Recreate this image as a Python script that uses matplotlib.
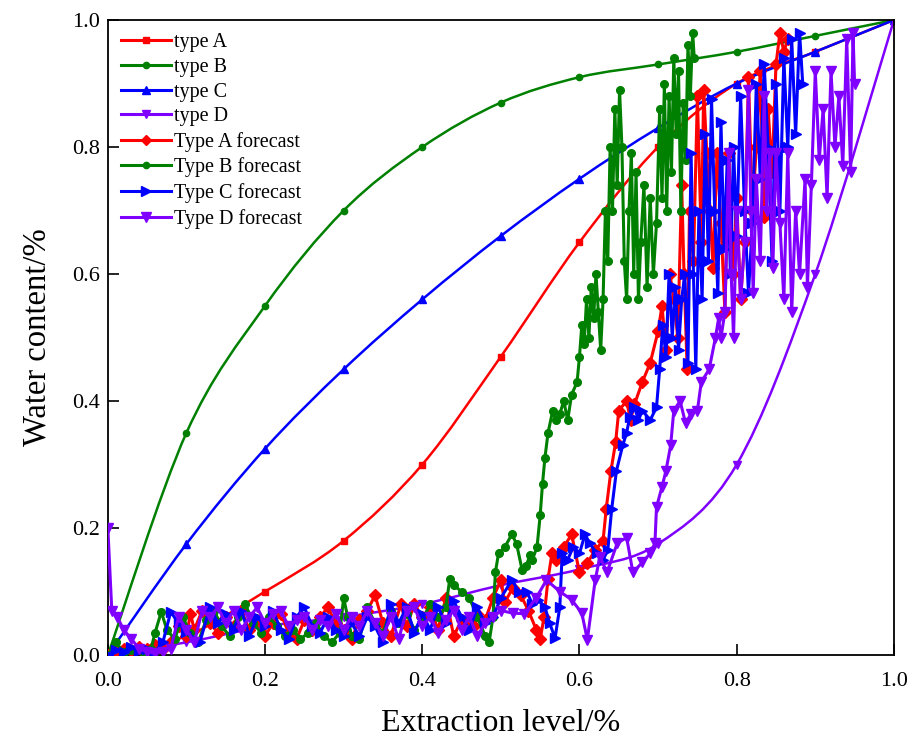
import numpy as np
import matplotlib.pyplot as plt
from matplotlib.path import Path
from matplotlib.patches import PathPatch
from matplotlib.lines import Line2D

plt.rcParams['font.family'] = ['Liberation Serif', 'DejaVu Serif']

# type curves (values read at every 0.1 of extraction level)
type_x = [0.0, 0.1, 0.2, 0.3, 0.4, 0.5, 0.6, 0.7, 0.8, 0.9, 1.0]
type_a = [0.0, 0.03, 0.10, 0.18, 0.30, 0.47, 0.65, 0.80, 0.90, 0.95, 1.0]
type_b = [0.0, 0.35, 0.55, 0.70, 0.80, 0.87, 0.91, 0.93, 0.95, 0.975, 1.0]
type_c = [0.0, 0.175, 0.325, 0.45, 0.56, 0.66, 0.75, 0.83, 0.90, 0.95, 1.0]
type_d = [0.0, 0.02, 0.045, 0.06, 0.08, 0.11, 0.135, 0.175, 0.30, 0.60, 1.0]

# forecast series, (extraction level, water content)
fc_a = np.array([
    [0.000, 0.000], [0.010, 0.005], [0.020, 0.010], [0.030, 0.008], [0.040, 0.012],
    [0.050, 0.010], [0.060, 0.015], [0.070, 0.010], [0.080, 0.020], [0.090, 0.045],
    [0.100, 0.030], [0.105, 0.065], [0.110, 0.040], [0.120, 0.070], [0.130, 0.050],
    [0.140, 0.035], [0.150, 0.060], [0.160, 0.045], [0.170, 0.070], [0.180, 0.040],
    [0.190, 0.055], [0.200, 0.030], [0.210, 0.050], [0.220, 0.065], [0.230, 0.035],
    [0.240, 0.025], [0.250, 0.055], [0.260, 0.040], [0.270, 0.060], [0.280, 0.075],
    [0.290, 0.050], [0.300, 0.040], [0.310, 0.025], [0.320, 0.055], [0.330, 0.070],
    [0.340, 0.094], [0.350, 0.050], [0.360, 0.030], [0.373, 0.080], [0.380, 0.045],
    [0.390, 0.080], [0.400, 0.060], [0.410, 0.075], [0.420, 0.040], [0.430, 0.090],
    [0.440, 0.030], [0.450, 0.055], [0.466, 0.045], [0.470, 0.065], [0.480, 0.055],
    [0.490, 0.090], [0.500, 0.118], [0.505, 0.083], [0.515, 0.105], [0.525, 0.095],
    [0.535, 0.070], [0.545, 0.040], [0.550, 0.025], [0.555, 0.060], [0.560, 0.120],
    [0.565, 0.160], [0.570, 0.150], [0.580, 0.170], [0.590, 0.190], [0.600, 0.130],
    [0.610, 0.145], [0.620, 0.165], [0.630, 0.180], [0.634, 0.230], [0.640, 0.290],
    [0.646, 0.335], [0.650, 0.385], [0.660, 0.400], [0.665, 0.370], [0.670, 0.395],
    [0.680, 0.430], [0.690, 0.460], [0.700, 0.510], [0.705, 0.550], [0.710, 0.480],
    [0.715, 0.600], [0.720, 0.560], [0.725, 0.500], [0.730, 0.740], [0.733, 0.600],
    [0.737, 0.450], [0.740, 0.700], [0.745, 0.620], [0.750, 0.880], [0.755, 0.650],
    [0.758, 0.890], [0.762, 0.790], [0.766, 0.700], [0.770, 0.610], [0.775, 0.790],
    [0.780, 0.680], [0.785, 0.540], [0.790, 0.790], [0.795, 0.600], [0.800, 0.720],
    [0.805, 0.560], [0.810, 0.650], [0.815, 0.910], [0.820, 0.700], [0.825, 0.800],
    [0.830, 0.920], [0.835, 0.690], [0.840, 0.860], [0.845, 0.760], [0.850, 0.930],
    [0.855, 0.980], [0.860, 0.950], [0.865, 0.970],
])

fc_b = np.array([
    [0.000, 0.000], [0.010, 0.020], [0.020, 0.005], [0.030, 0.008], [0.045, 0.004],
    [0.055, 0.010], [0.060, 0.035], [0.068, 0.068], [0.075, 0.040], [0.085, 0.025],
    [0.095, 0.060], [0.105, 0.035], [0.115, 0.020], [0.125, 0.055], [0.135, 0.070],
    [0.145, 0.045], [0.155, 0.030], [0.165, 0.060], [0.175, 0.080], [0.185, 0.050],
    [0.195, 0.035], [0.205, 0.060], [0.215, 0.045], [0.225, 0.030], [0.235, 0.040],
    [0.245, 0.025], [0.255, 0.035], [0.265, 0.050], [0.275, 0.030], [0.285, 0.020],
    [0.295, 0.035], [0.300, 0.090], [0.305, 0.060], [0.310, 0.030], [0.320, 0.025],
    [0.330, 0.075], [0.340, 0.050], [0.350, 0.035], [0.360, 0.070], [0.370, 0.050],
    [0.380, 0.065], [0.390, 0.040], [0.400, 0.055], [0.410, 0.080], [0.420, 0.060],
    [0.430, 0.075], [0.435, 0.120], [0.440, 0.110], [0.450, 0.100], [0.460, 0.090],
    [0.470, 0.060], [0.480, 0.030], [0.485, 0.020], [0.490, 0.060], [0.493, 0.130],
    [0.497, 0.160], [0.505, 0.170], [0.514, 0.190], [0.520, 0.175], [0.527, 0.134],
    [0.532, 0.140], [0.537, 0.157], [0.540, 0.150], [0.546, 0.170], [0.550, 0.220],
    [0.553, 0.270], [0.556, 0.310], [0.560, 0.350], [0.566, 0.385], [0.570, 0.370],
    [0.575, 0.380], [0.580, 0.400], [0.585, 0.370], [0.590, 0.410], [0.597, 0.430],
    [0.600, 0.470], [0.603, 0.520], [0.606, 0.490], [0.609, 0.560], [0.612, 0.500],
    [0.615, 0.580], [0.618, 0.530], [0.621, 0.600], [0.624, 0.540], [0.627, 0.480],
    [0.630, 0.560], [0.633, 0.700], [0.636, 0.620], [0.639, 0.800], [0.642, 0.700],
    [0.645, 0.860], [0.648, 0.740], [0.651, 0.890], [0.654, 0.800], [0.657, 0.620],
    [0.660, 0.560], [0.663, 0.700], [0.666, 0.790], [0.669, 0.600], [0.672, 0.760],
    [0.675, 0.560], [0.678, 0.650], [0.682, 0.740], [0.686, 0.580], [0.690, 0.720],
    [0.694, 0.600], [0.698, 0.680], [0.702, 0.860], [0.705, 0.720], [0.708, 0.900],
    [0.711, 0.700], [0.714, 0.880], [0.717, 0.760], [0.720, 0.940], [0.723, 0.820],
    [0.726, 0.920], [0.729, 0.700], [0.732, 0.870], [0.735, 0.780], [0.738, 0.960],
    [0.741, 0.880], [0.744, 0.980], [0.746, 0.940],
])

fc_c = np.array([
    [0.000, 0.000], [0.010, 0.008], [0.020, 0.004], [0.030, 0.012], [0.040, 0.006],
    [0.050, 0.010], [0.060, 0.005], [0.070, 0.020], [0.080, 0.068], [0.090, 0.050],
    [0.100, 0.036], [0.117, 0.020], [0.130, 0.076], [0.140, 0.050], [0.150, 0.065],
    [0.160, 0.040], [0.170, 0.070], [0.180, 0.030], [0.190, 0.060], [0.200, 0.045],
    [0.210, 0.070], [0.220, 0.040], [0.230, 0.025], [0.240, 0.060], [0.250, 0.075],
    [0.260, 0.045], [0.270, 0.035], [0.280, 0.060], [0.290, 0.040], [0.300, 0.030],
    [0.310, 0.050], [0.320, 0.030], [0.330, 0.060], [0.340, 0.045], [0.350, 0.020],
    [0.360, 0.080], [0.370, 0.050], [0.380, 0.075], [0.390, 0.035], [0.400, 0.065],
    [0.410, 0.040], [0.420, 0.075], [0.430, 0.050], [0.440, 0.085], [0.450, 0.060],
    [0.460, 0.040], [0.470, 0.075], [0.480, 0.050], [0.490, 0.060], [0.500, 0.090],
    [0.514, 0.118], [0.523, 0.100], [0.533, 0.100], [0.540, 0.080], [0.547, 0.087],
    [0.556, 0.076], [0.562, 0.050], [0.569, 0.027], [0.575, 0.076], [0.578, 0.160],
    [0.585, 0.150], [0.592, 0.170], [0.600, 0.160], [0.607, 0.190], [0.613, 0.176],
    [0.622, 0.160], [0.630, 0.150], [0.636, 0.165], [0.641, 0.230], [0.647, 0.290],
    [0.655, 0.330], [0.660, 0.350], [0.664, 0.375], [0.670, 0.390], [0.675, 0.370],
    [0.680, 0.385], [0.690, 0.370], [0.698, 0.390], [0.702, 0.450], [0.706, 0.520],
    [0.710, 0.470], [0.714, 0.600], [0.718, 0.500], [0.722, 0.580], [0.726, 0.480],
    [0.730, 0.560], [0.734, 0.600], [0.738, 0.460], [0.742, 0.790], [0.745, 0.600],
    [0.748, 0.450], [0.752, 0.700], [0.756, 0.560], [0.760, 0.820], [0.764, 0.620],
    [0.768, 0.875], [0.772, 0.700], [0.776, 0.570], [0.780, 0.840], [0.784, 0.640],
    [0.788, 0.780], [0.792, 0.600], [0.796, 0.800], [0.800, 0.660], [0.805, 0.880],
    [0.810, 0.700], [0.815, 0.570], [0.820, 0.680], [0.825, 0.900], [0.830, 0.750],
    [0.835, 0.930], [0.840, 0.800], [0.845, 0.620], [0.850, 0.900], [0.855, 0.700],
    [0.860, 0.940], [0.865, 0.800], [0.870, 0.970], [0.875, 0.820], [0.880, 0.980],
    [0.884, 0.900],
])

fc_d = np.array([
    [0.000, 0.200], [0.005, 0.070], [0.012, 0.060], [0.020, 0.040], [0.030, 0.025],
    [0.040, 0.010], [0.050, 0.005], [0.060, 0.003], [0.070, 0.005], [0.080, 0.010],
    [0.090, 0.060], [0.100, 0.040], [0.110, 0.020], [0.120, 0.070], [0.130, 0.060],
    [0.140, 0.075], [0.150, 0.050], [0.160, 0.070], [0.170, 0.040], [0.180, 0.060],
    [0.190, 0.075], [0.200, 0.050], [0.210, 0.065], [0.220, 0.070], [0.230, 0.045],
    [0.240, 0.055], [0.250, 0.060], [0.260, 0.040], [0.270, 0.055], [0.280, 0.045],
    [0.290, 0.065], [0.300, 0.040], [0.310, 0.060], [0.320, 0.045], [0.330, 0.070],
    [0.340, 0.050], [0.350, 0.030], [0.360, 0.060], [0.370, 0.025], [0.380, 0.070],
    [0.390, 0.075], [0.400, 0.045], [0.410, 0.060], [0.420, 0.035], [0.430, 0.055],
    [0.440, 0.070], [0.450, 0.040], [0.460, 0.060], [0.470, 0.030], [0.480, 0.050],
    [0.490, 0.060], [0.500, 0.070], [0.515, 0.066], [0.530, 0.065], [0.545, 0.090],
    [0.558, 0.118], [0.575, 0.100], [0.590, 0.087], [0.603, 0.066], [0.610, 0.024],
    [0.620, 0.118], [0.626, 0.155], [0.635, 0.130], [0.648, 0.176], [0.660, 0.185],
    [0.668, 0.130], [0.680, 0.146], [0.690, 0.160], [0.696, 0.176], [0.698, 0.233],
    [0.705, 0.265], [0.710, 0.290], [0.716, 0.330], [0.720, 0.385], [0.728, 0.400],
    [0.735, 0.365], [0.742, 0.380], [0.750, 0.385], [0.755, 0.430], [0.765, 0.450],
    [0.773, 0.500], [0.777, 0.530], [0.780, 0.500], [0.785, 0.540], [0.790, 0.790],
    [0.793, 0.600], [0.796, 0.500], [0.800, 0.700], [0.805, 0.560], [0.810, 0.650],
    [0.815, 0.890], [0.818, 0.700], [0.821, 0.570], [0.825, 0.750], [0.830, 0.620],
    [0.835, 0.880], [0.838, 0.700], [0.842, 0.790], [0.846, 0.610], [0.850, 0.790],
    [0.855, 0.680], [0.860, 0.560], [0.865, 0.790], [0.870, 0.540], [0.875, 0.700],
    [0.880, 0.600], [0.887, 0.750], [0.890, 0.580], [0.895, 0.740], [0.900, 0.920],
    [0.905, 0.780], [0.910, 0.860], [0.915, 0.720], [0.920, 0.920], [0.925, 0.800],
    [0.930, 0.880], [0.935, 0.770], [0.940, 0.970], [0.945, 0.760], [0.948, 0.980],
    [0.950, 0.900],
])

RED = '#FF0000'
GREEN = '#008000'
BLUE = '#0000FF'
PURPLE = '#8000FF'


def smooth_path(x, y):
    # Catmull-Rom spline through the points, as cubic Bezier segments
    p = np.column_stack([x, y]).astype(float)
    pp = np.vstack([p[0], p, p[-1]])
    verts = [p[0]]
    codes = [Path.MOVETO]
    for i in range(1, len(pp) - 2):
        c1 = pp[i] + (pp[i + 1] - pp[i - 1]) / 6
        c2 = pp[i + 1] - (pp[i + 2] - pp[i]) / 6
        verts += [c1, c2, pp[i + 1]]
        codes += [Path.CURVE4] * 3
    return Path(verts, codes)


fig = plt.figure(figsize=(9.14, 7.44), dpi=100)
ax = fig.add_axes([0.118, 0.1196, 0.860, 0.8535])

handles = []
types = [(type_a, RED, 's', 5, 'type A'),
         (type_b, GREEN, 'o', 4.5, 'type B'),
         (type_c, BLUE, '^', 6, 'type C'),
         (type_d, PURPLE, 'v', 6, 'type D')]
for ys, col, mk, ms, lab in types:
    ax.add_patch(PathPatch(smooth_path(type_x, ys), facecolor='none',
                           edgecolor=col, lw=1.8, zorder=2))
    ax.plot(type_x, ys, linestyle='none', marker=mk, ms=ms, color=col, zorder=2)
    handles.append(Line2D([], [], color=col, lw=2.2, marker=mk, ms=ms, label=lab))

forecasts = [(fc_a, RED, 'D', 6, 'Type A forecast'),
             (fc_b, GREEN, 'o', 5.5, 'Type B forecast'),
             (fc_c, BLUE, '>', 7.5, 'Type C forecast'),
             (fc_d, PURPLE, 'v', 7.5, 'Type D forecast')]
for arr, col, mk, ms, lab in forecasts:
    ax.plot(arr[:, 0], arr[:, 1], color=col, lw=2.2, marker=mk, ms=ms, zorder=3)
    handles.append(Line2D([], [], color=col, lw=2.2, marker=mk, ms=ms - 1, label=lab))

ax.set_xlim(0, 1)
ax.set_ylim(0, 1)
ax.set_xticks(np.arange(0, 1.01, 0.2))
ax.set_yticks(np.arange(0, 1.01, 0.2))
ax.xaxis.set_major_formatter(plt.FormatStrFormatter('%.1f'))
ax.yaxis.set_major_formatter(plt.FormatStrFormatter('%.1f'))
ax.tick_params(direction='in', length=8, width=1.2, labelsize=16)
ax.tick_params(axis='x', pad=12)
ax.tick_params(axis='y', pad=6)
for s in ax.spines.values():
    s.set_linewidth(1.3)

ax.set_xlabel('Extraction level/%', fontsize=23, labelpad=13)
ax.set_ylabel('Water content/%', fontsize=23.5, labelpad=14)

ax.legend(handles=handles, loc='upper left', bbox_to_anchor=(0.0, 1.0),
          frameon=False, fontsize=14.5, handlelength=2.5, handletextpad=0.15,
          labelspacing=0.28, borderaxespad=0.25)

fig.savefig('out.png', dpi=100)
